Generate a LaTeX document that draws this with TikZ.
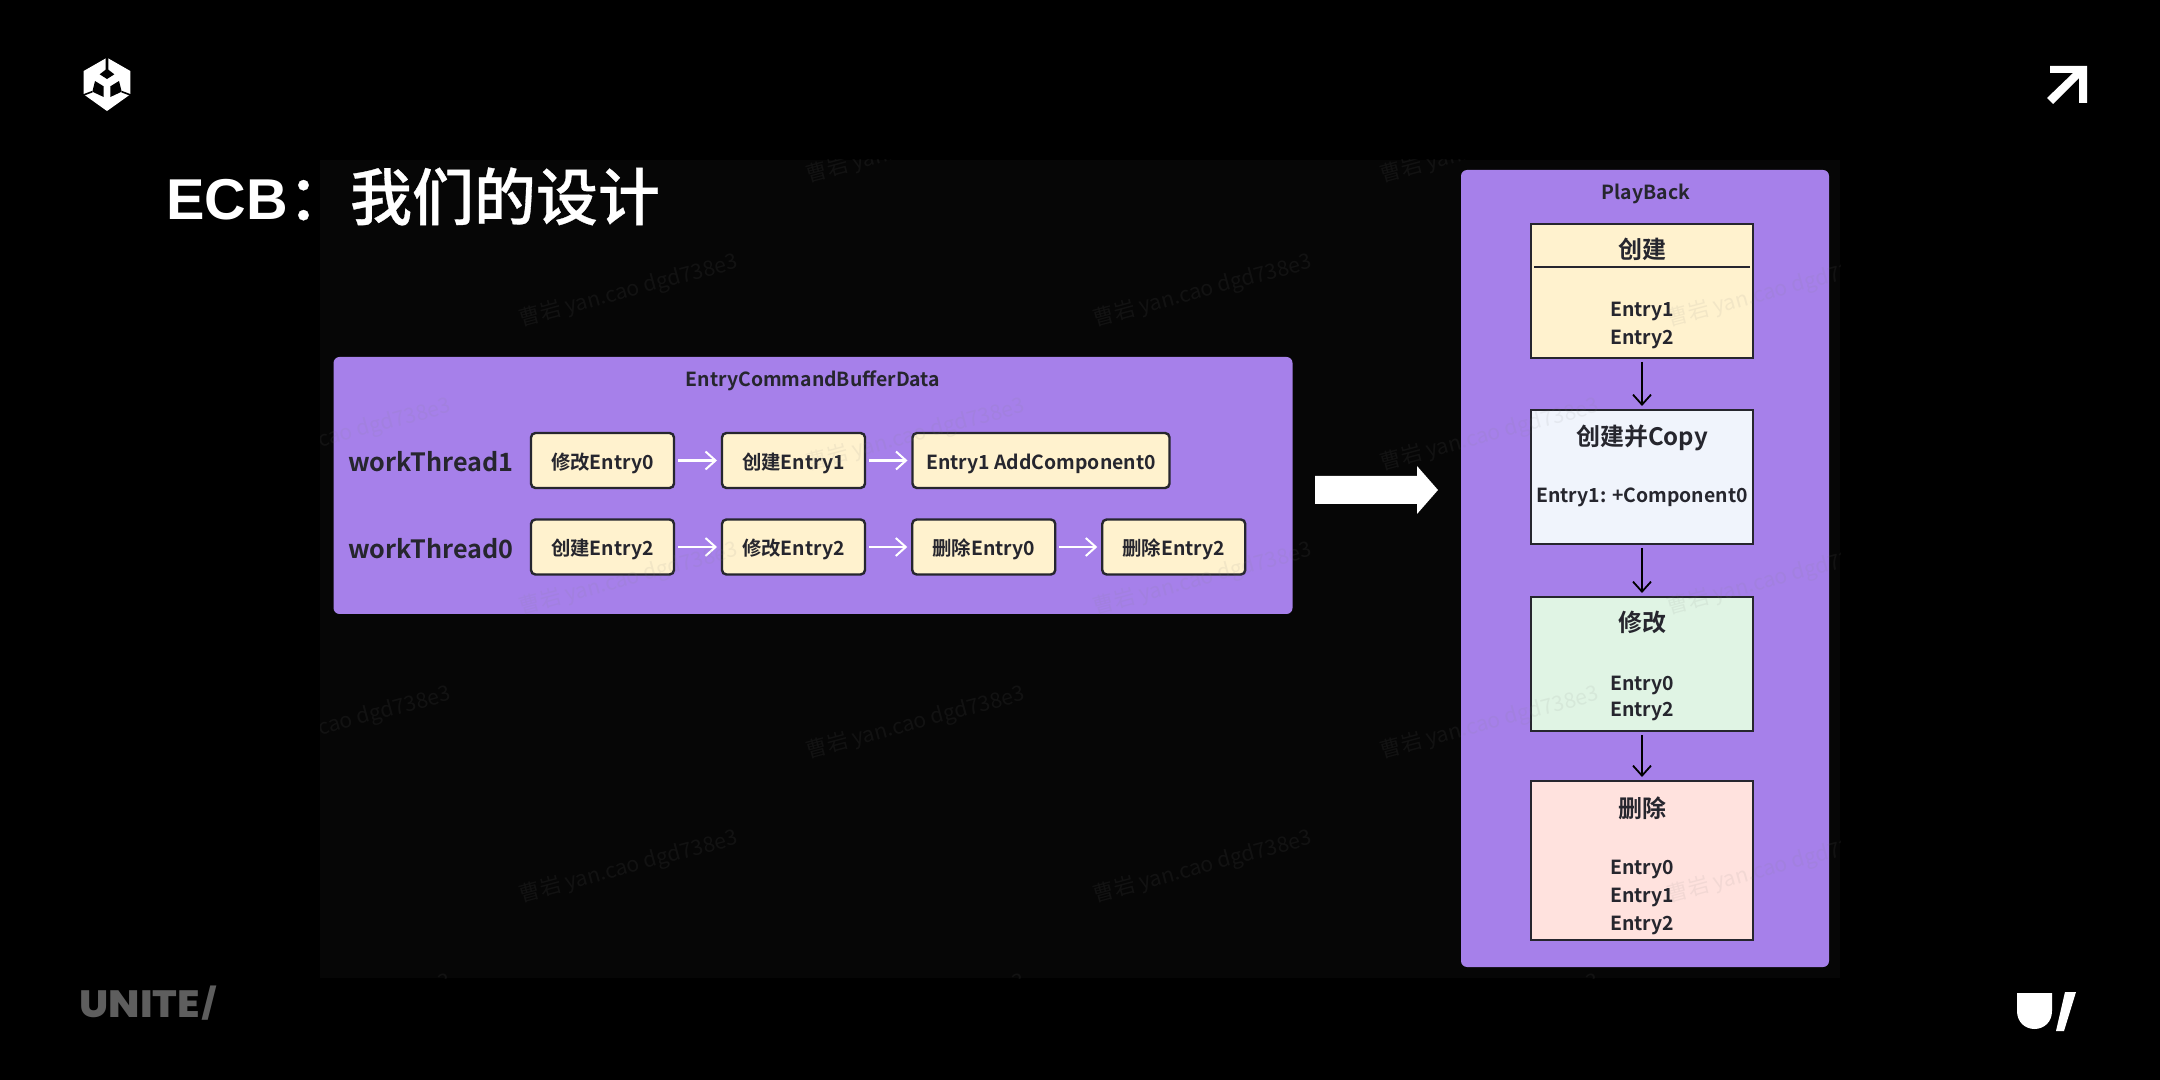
\documentclass[tikz,border=0pt]{standalone}
\usepackage{fontspec}
\usetikzlibrary{arrows.meta}
\setmainfont{Noto Sans CJK SC Bold}
\newfontfamily\titlecjk{Noto Sans CJK SC Medium}[FakeBold=0.5]
\newfontfamily\wmfont{Noto Sans CJK SC}
\newfontfamily\titlelat{Liberation Sans Bold}
\newfontfamily\unitefont{Poppins ExtraBold}[FakeStretch=1.08]
\definecolor{panelc}{HTML}{A680EA}
\definecolor{creamc}{HTML}{FFF2CE}
\definecolor{bluec}{HTML}{F0F4FC}
\definecolor{greenc}{HTML}{E0F4E4}
\definecolor{pinkc}{HTML}{FFE2DE}
\definecolor{inkc}{HTML}{26262E}
\definecolor{regionc}{HTML}{060606}
\definecolor{unitec}{HTML}{5E5E5E}
\tikzset{
  panelbox/.style={fill=panelc,draw=none,rounded corners=3pt,inner sep=0pt,outer sep=0pt},
  stepbox/.style={fill=creamc,draw=inkc,line width=1.2pt,rounded corners=2.2pt,inner sep=0pt,outer sep=0pt,minimum height=27.5pt,text=inkc,text height=8.8pt,text depth=0pt,font=\fontsize{9.7}{12}\selectfont},
  stagebox/.style={draw=inkc,line width=1.2pt,inner sep=0pt,outer sep=0pt,minimum width=111pt},
  lbl/.style={text=inkc,inner sep=0pt,text height=8pt,text depth=0pt,font=\fontsize{9.7}{12}\selectfont},
  headlbl/.style={text=inkc,inner sep=0pt,text height=10pt,text depth=0pt,font=\fontsize{12}{14}\selectfont},
  threadlbl/.style={text=inkc,inner sep=0pt,font=\fontsize{12.6}{16}\selectfont},
  flowW/.style={draw=white,line width=1.25pt,-{Straight Barb[length=5pt,width=9pt,line width=1pt]},shorten >=2.5pt,shorten <=2pt},
  flowK/.style={draw=black,line width=0.9pt,-{Straight Barb[length=5pt,width=9pt,line width=0.9pt]},shorten >=2pt,shorten <=2pt},
}
\begin{document}
\begin{tikzpicture}[x=0.5pt,y=-0.5pt]
\useasboundingbox (0,0) rectangle (2160,1080);
\fill[black] (0,0) rectangle (2160,1080);
\fill[regionc] (320,160) rectangle (1840,978);

% panels
\node[panelbox,minimum width=479.5pt,minimum height=128.5pt] (leftpanel) at (813,485.5) {};
\node[panelbox,minimum width=184pt,minimum height=398.5pt] (rightpanel) at (1645,568.5) {};
\node[lbl] (lefttitle) at (813,379) {EntryCommandBufferData};
\node[lbl] (righttitle) at (1646,192) {PlayBack};

% thread labels
\node[threadlbl,anchor=west] (th1) at (348,462) {workThread1};
\node[threadlbl,anchor=west] (th0) at (348,549) {workThread0};

% steps
\node[stepbox,minimum width=71.5pt] (a1) at (602.5,460.5) {修改Entry0};
\node[stepbox,minimum width=71.5pt] (a2) at (793.5,460.5) {创建Entry1};
\node[stepbox,minimum width=128.5pt] (a3) at (1041,460.5) {Entry1 AddComponent0};
\node[stepbox,minimum width=71.5pt] (b1) at (602.5,547) {创建Entry2};
\node[stepbox,minimum width=71.5pt] (b2) at (793.5,547) {修改Entry2};
\node[stepbox,minimum width=71.5pt] (b3) at (983.75,547) {删除Entry0};
\node[stepbox,minimum width=71.5pt] (b4) at (1173.75,547) {删除Entry2};
\draw[flowW] (a1) -- (a2);
\draw[flowW] (a2) -- (a3.west |- a2);
\draw[flowW] (b1) -- (b2);
\draw[flowW] (b2) -- (b3);
\draw[flowW] (b3) -- (b4);

% big arrow
\fill[white] (1315,476) -- (1417,476) -- (1417,466) -- (1438,490) -- (1417,514) -- (1417,504) -- (1315,504) -- cycle;

% stages
\node[stagebox,fill=creamc,minimum height=67pt] (s1) at (1642,291) {};
\node[stagebox,fill=bluec,minimum height=67pt] (s2) at (1642,477) {};
\node[stagebox,fill=greenc,minimum height=67pt] (s3) at (1642,664) {};
\node[stagebox,fill=pinkc,minimum height=79.5pt] (s4) at (1642,860.5) {};
\coordinate (rule1) at (1534,267);
\coordinate (rule2) at (1750,267);
\draw[inkc,line width=1.2pt] (rule1) -- (rule2);
\draw[flowK] (s1) -- (s2);
\draw[flowK] (s2) -- (s3);
\draw[flowK] (s3) -- (s4);

\node[headlbl] (h1) at (1642,249) {创建};
\node[lbl] (e11) at (1642,309) {Entry1};
\node[lbl] (e12) at (1642,337) {Entry2};
\node[headlbl] (h2) at (1642,436) {创建并Copy};
\node[lbl] (e21) at (1642,495) {Entry1: +Component0};
\node[headlbl] (h3) at (1642,622) {修改};
\node[lbl] (e31) at (1642,682) {Entry0};
\node[lbl] (e32) at (1642,709) {Entry2};
\node[headlbl] (h4) at (1642,807) {删除};
\node[lbl] (e41) at (1642,866) {Entry0};
\node[lbl] (e42) at (1642,894) {Entry1};
\node[lbl] (e43) at (1642,922) {Entry2};

% watermarks
\begin{scope}
\clip (320,160) rectangle (1840,978);
\foreach \i/\wx/\wy in {1/55/291,2/629/291,3/1203/291,4/1777/291,5/55/579,6/629/579,7/1203/579,8/1777/579,9/55/867,10/629/867,11/1203/867,12/1777/867,13/342/147,14/916/147,15/1490/147,16/342/435,17/916/435,18/1490/435,19/342/723,20/916/723,21/1490/723,22/342/1011,23/916/1011,24/1490/1011}{
  \node[name=wm\i,rotate=15,text=gray,opacity=0.1,inner sep=0pt,font=\wmfont\fontsize{10.6}{13}\selectfont] at (\wx,\wy) {曹岩 yan.cao dgd738e3};
}
\end{scope}

% title
\node[anchor=base west,text=white,inner sep=0pt,font=\titlecjk\fontsize{31}{36}\selectfont] (title) at (166,220) {{\titlelat\fontsize{28.8}{36}\selectfont ECB}：我们的设计};

% unity logo
\begin{scope}[shift={(75,51)},x=0.1667pt,y=-0.1667pt]
\fill[white] (96,20) -- (166,60) -- (166,130) -- (96,180) -- (26,130) -- (26,60) -- cycle;
\fill[black] (92,16) -- (100,16) -- (100,56) -- (118,70) -- (96,84) -- (74,70) -- (92,56) -- cycle;
\fill[black] (60,90) -- (86,106) -- (86,138) -- (52,122) -- cycle;
\fill[black] (132,90) -- (106,106) -- (106,138) -- (140,122) -- cycle;
\draw[black,line width=0.8pt] (20,134) -- (52,122);
\draw[black,line width=0.8pt] (172,134) -- (140,122);
\end{scope}

% arrow top right
\fill[white] (2050,66) -- (2087,66) -- (2087,103) -- (2079,103) -- (2079,78) -- (2053,104) -- (2047,98) -- (2073,73) -- (2050,73) -- cycle;

% bottom marks
\node[anchor=base west,text=unitec,inner sep=0pt,font=\unitefont\fontsize{19}{22}\selectfont] (unite) at (79,1017) {UNITE\kern1.2pt\raisebox{1.2pt}{\fontsize{15}{18}\selectfont /}};
\fill[white] (2017,993) -- (2052,993) -- (2052,1011) .. controls (2052,1022) and (2044,1029) .. (2034.5,1029) .. controls (2025,1029) and (2017,1022) .. (2017,1011) -- cycle;
\fill[white] (2065,992) -- (2076,992) -- (2064,1031) -- (2056,1031) -- cycle;
\end{tikzpicture}
\end{document}
